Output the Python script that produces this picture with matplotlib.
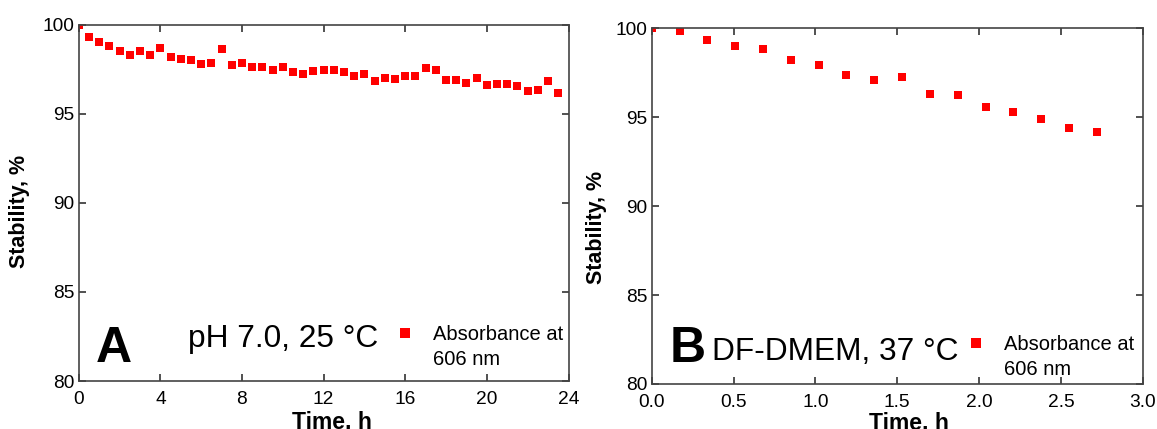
import matplotlib.pyplot as plt
from matplotlib.lines import Line2D

plt.rcParams['font.family'] = ['Liberation Sans', 'DejaVu Sans']

# panel A: pH 7.0, 25 C, sampled every 0.5 h
time_a = [i * 0.5 for i in range(48)]
stab_a = [100.0, 99.29, 99.04, 98.82, 98.52, 98.31, 98.54, 98.31, 98.69, 98.20,
          98.05, 98.01, 97.81, 97.86, 98.65, 97.72, 97.85, 97.62, 97.62, 97.47,
          97.60, 97.34, 97.24, 97.41, 97.44, 97.47, 97.34, 97.11, 97.21, 96.83,
          97.02, 96.95, 97.13, 97.13, 97.58, 97.44, 96.89, 96.91, 96.70, 96.99,
          96.59, 96.68, 96.68, 96.54, 96.29, 96.33, 96.82, 96.14]

# panel B: DF-DMEM, 37 C
time_b = [0.0, 0.17, 0.34, 0.51, 0.68, 0.85, 1.02, 1.19, 1.36, 1.53,
          1.70, 1.87, 2.04, 2.21, 2.38, 2.55, 2.72]
stab_b = [100.0, 99.87, 99.34, 99.0, 98.82, 98.23, 97.94, 97.39, 97.10, 97.24,
          96.32, 96.26, 95.58, 95.30, 94.91, 94.37, 94.16]

ticks_a = [0, 4, 8, 12, 16, 20, 24]
ticks_b = [0.0, 0.5, 1.0, 1.5, 2.0, 2.5, 3.0]
yticks = [80, 85, 90, 95, 100]

W, H = 1157, 429
fig = plt.figure(figsize=(W / 100, H / 100), dpi=100)

def box(x0, x1, ytop, ybot):
    return [x0 / W, 1 - ybot / H, (x1 - x0) / W, (ybot - ytop) / H]

ax1 = fig.add_axes(box(78.7, 568.5, 24.7, 381))
ax2 = fig.add_axes(box(651.7, 1142.7, 28.3, 384))

red = '#ff0000'
for ax, t, s, xt, xlim, fmt in [(ax1, time_a, stab_a, ticks_a, 24, '%d'),
                                  (ax2, time_b, stab_b, ticks_b, 3.0, '%.1f')]:
    ax.plot(t, s, 's', color=red, ms=5.3, mew=0)
    ax.set_xlim(0, xlim)
    ax.set_ylim(80, 100)
    ax.set_xticks(xt)
    ax.set_xticklabels([fmt % v for v in xt])
    ax.set_yticks(yticks)
    ax.tick_params(direction='in', top=True, right=True, length=5, width=1.2,
                   labelsize=13.8, color='#333333', pad=3)
    ax.tick_params(axis='x', pad=7)
    for sp in ax.spines.values():
        sp.set_color('#444444')
        sp.set_linewidth(1.2)
    ax.set_xlabel('Time, h', fontsize=16.5, fontweight='bold')
    ax.set_ylabel('Stability, %', fontsize=15.5, fontweight='bold')

# axis label positions (axes fraction)
ax1.xaxis.set_label_coords(0.518, -0.082)
ax2.xaxis.set_label_coords(0.524, -0.076)
ax1.xaxis.label.set_va('top')
ax2.xaxis.label.set_va('top')
ax1.yaxis.set_label_coords(-0.099, 0.477)
ax2.yaxis.set_label_coords(-0.091, 0.441)

ax1.text(0.85, 81.07, 'A', fontsize=36, fontweight='bold', va='baseline')
ax1.text(5.36, 81.9, 'pH 7.0, 25 \u00b0C', fontsize=22.8, va='baseline')
ax2.text(0.11, 81.24, 'B', fontsize=36, fontweight='bold', va='baseline')
ax2.text(0.369, 81.36, 'DF-DMEM, 37 \u00b0C', fontsize=22.8, va='baseline')

handle = Line2D([], [], marker='s', ls='none', color=red, ms=7.6, mew=0)
blank = Line2D([], [], ls='none', marker='none')
for ax, x0, y0 in [(ax1, 398, 325), (ax2, 969, 335)]:
    ax.legend([handle, blank], ['Absorbance at', '606 nm'], loc='upper left',
              bbox_to_anchor=(x0 / W, 1 - y0 / H), bbox_transform=fig.transFigure,
              frameon=False, fontsize=14.5, handlelength=0.7, handletextpad=1.05,
              labelspacing=0.3, borderpad=0, borderaxespad=0)

fig.savefig('out.png', dpi=100)
